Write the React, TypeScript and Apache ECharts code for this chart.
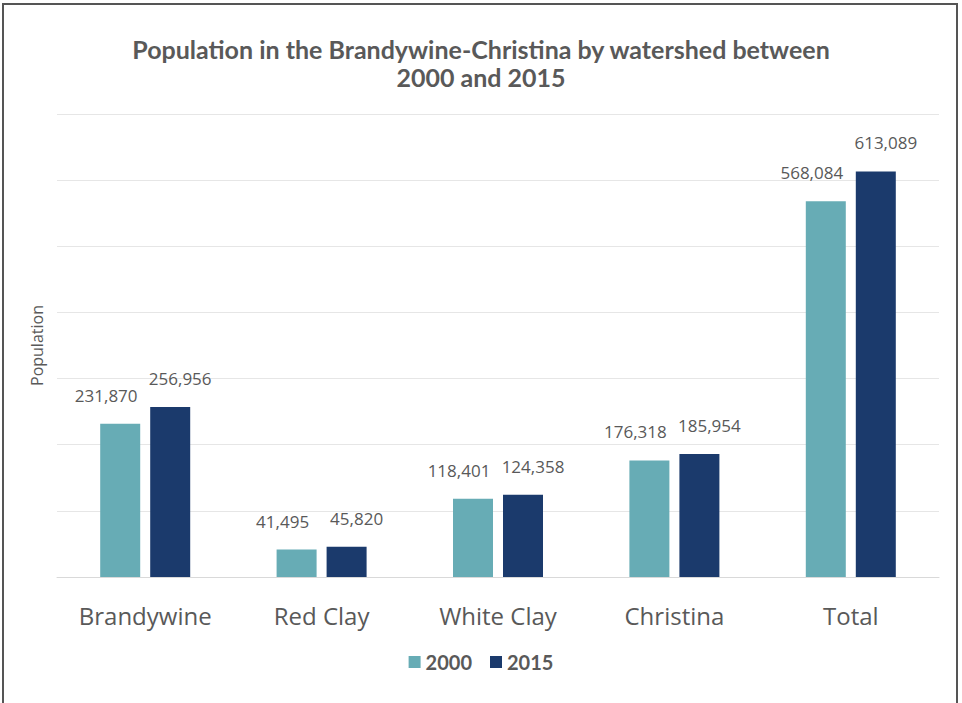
import React, { useEffect, useRef } from "react";
import * as echarts from "echarts";

const categories = ["Brandywine", "Red Clay", "White Clay", "Christina", "Total"];
const values2000 = [231870, 41495, 118401, 176318, 568084];
const values2015 = [256956, 45820, 124358, 185954, 613089];
const seriesNames = ["2000", "2015"];

export default function App() {
  const ref = useRef<HTMLDivElement>(null);
  useEffect(() => {
    const chart = echarts.init(ref.current!, undefined, { renderer: "svg" });
    const fmt = (p: any) => Number(p.value).toLocaleString("en-US");
    const labelStyle = (dx: number) => ({
      show: true,
      position: "top" as const,
      distance: 20,
      offset: [dx, 0],
      formatter: fmt,
      color: "#595959",
      fontSize: 17,
      fontFamily: "Open Sans",
    });
    chart.setOption({
      animation: false,
      backgroundColor: "#ffffff",
      title: {
        text: "Population in the Brandywine-Christina by watershed between\n2000 and 2015",
        left: "center",
        top: 30,
        textStyle: {
          fontFamily: "Lato",
          fontWeight: "bold",
          fontSize: 25,
          lineHeight: 28,
          color: "#595959",
        },
      },
      graphic: [
        {
          type: "rect",
          shape: { x: 3, y: 4, width: 954, height: 710 },
          style: { fill: "none", stroke: "#555555", lineWidth: 2 },
          silent: true,
        },
      ],
      legend: {
        bottom: 26,
        left: "center",
        itemWidth: 12,
        itemHeight: 12,
        itemGap: 18,
        icon: "rect",
        textStyle: { fontFamily: "Lato", fontWeight: "bold", fontSize: 20, color: "#595959" },
        data: seriesNames,
      },
      grid: { left: 57, right: 23, top: 114, bottom: 126 },
      xAxis: {
        type: "category",
        data: categories,
        axisLine: { lineStyle: { color: "#d9d9d9" } },
        axisTick: { show: false },
        axisLabel: { interval: 0, fontFamily: "Open Sans", fontSize: 24, color: "#595959", margin: 26 },
      },
      yAxis: {
        type: "value",
        min: 0,
        max: 700000,
        interval: 100000,
        name: "Population",
        nameLocation: "middle",
        nameGap: 12,
        nameTextStyle: { fontFamily: "Open Sans", fontSize: 16, color: "#595959" },
        axisLabel: { show: false },
        axisLine: { show: false },
        axisTick: { show: false },
        splitLine: { lineStyle: { color: "#e6e6e6" } },
      },
      series: [
        {
          name: seriesNames[0],
          type: "bar",
          data: values2000,
          barWidth: 40,
          barGap: "25%",
          itemStyle: { color: "#67acb5" },
          label: labelStyle(-14),
        },
        {
          name: seriesNames[1],
          type: "bar",
          data: values2015,
          barWidth: 40,
          barGap: "25%",
          itemStyle: { color: "#1b3a6c" },
          label: labelStyle(10),
        },
      ],
    });
    return () => chart.dispose();
  }, []);
  return (
    <div
      ref={ref}
      style={{ position: "fixed", left: 0, top: 0, width: 962, height: 703 }}
    />
  );
}
